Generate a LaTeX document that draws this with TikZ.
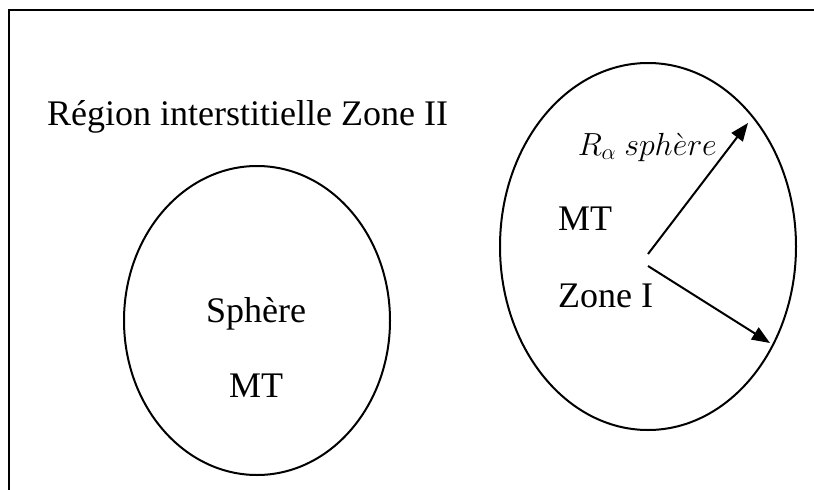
\RequirePackage{fix-cm}
\documentclass[tikz,border=0pt]{standalone}
\usepackage{fontspec}
\setmainfont{Liberation Serif}
\usetikzlibrary{arrows.meta}

\tikzset{
  txt/.style={font=\fontsize{36}{43}\selectfont, inner sep=0pt},
  rtxt/.style={font=\fontsize{32}{38}\selectfont, inner sep=0pt},
  sphere/.style={line width=2pt},
  rayon/.style={line width=2pt, -{Triangle[length=18pt,width=14pt]}}
}

\begin{document}
\begin{tikzpicture}[x=1pt,y=-1pt]

	\useasboundingbox (0,0) rectangle (814,490);

	\coordinate (L) at (257,320.5);
	\coordinate (R) at (648,246.5);
	\coordinate (O1) at (648,254);
	\coordinate (O2) at (648,266);
	\coordinate (P1) at (748,123);
	\coordinate (P2) at (770,343);

	% frame (open at right and bottom)
	\draw[line width=2pt] (814,10) -- (9,10) -- (9,490);

	% muffin-tin spheres
	\draw[sphere] (L) ellipse [x radius=133pt, y radius=154.5pt];
	\draw[sphere] (R) ellipse [x radius=148pt, y radius=183.5pt];

	% labels
	\node[txt, anchor=base west] (reg) at (47,125) {Région interstitielle Zone II};
	\node[txt, anchor=base] (sph) at (256,322) {Sphère};
	\node[txt, anchor=base] (mtl) at (256,397) {MT};
	\node[txt, anchor=base west] (mtr) at (558,230) {MT};
	\node[txt, anchor=base west] (zone) at (558,307) {Zone I};
	\node[rtxt, anchor=base east] (ra) at (717,155) {$R_{\alpha}\ sph\grave{e}re$};

	% radii
	\draw[rayon] (O1) -- (P1);
	\draw[rayon] (O2) -- (P2);

\end{tikzpicture}
\end{document}
